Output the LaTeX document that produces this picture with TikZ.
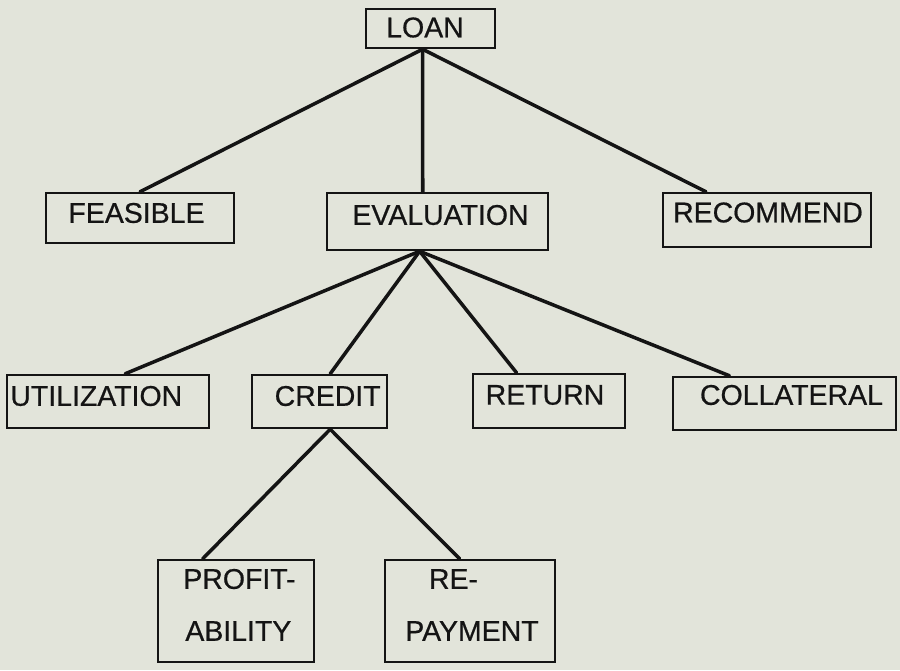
\documentclass[tikz,border=0pt]{standalone}
\usepackage{fontspec}
\setmainfont{Liberation Sans}
\newfontfamily\diagfont{Liberation Sans}[FakeBold=0.6]
\usetikzlibrary{calc}
\definecolor{bg}{RGB}{226,228,218}
\definecolor{ink}{RGB}{20,20,20}
\tikzset{
  box/.style={draw=ink, line width=1.4pt, rectangle, inner sep=0pt},
  lbl/.style={inner sep=0pt, text=ink, font=\diagfont\fontsize{16.2}{18}\selectfont},
  conn/.style={draw=ink, line width=2pt, line cap=round},
}
\begin{document}
\begin{tikzpicture}[x=0.02cm,y=-0.02cm]
\fill[bg] (0,0) rectangle (900,670);
\useasboundingbox (0,0) rectangle (900,670);
% boxes
\node[box, minimum width=129*0.02cm, minimum height=39*0.02cm] (loan) at (430.5,28.5) {};
\node[box, minimum width=188*0.02cm, minimum height=50*0.02cm] (feas) at (140,218) {};
\node[box, minimum width=221*0.02cm, minimum height=57*0.02cm] (eval) at (437.5,221.5) {};
\node[box, minimum width=208*0.02cm, minimum height=54*0.02cm] (rec) at (767,220) {};
\node[box, minimum width=202*0.02cm, minimum height=53*0.02cm] (util) at (108,401.5) {};
\node[box, minimum width=135*0.02cm, minimum height=53*0.02cm] (cred) at (319.5,401.5) {};
\node[box, minimum width=152*0.02cm, minimum height=54*0.02cm] (ret) at (549,401) {};
\node[box, minimum width=223*0.02cm, minimum height=53*0.02cm] (coll) at (784.5,403.5) {};
\node[box, minimum width=156*0.02cm, minimum height=102*0.02cm] (prof) at (236,611) {};
\node[box, minimum width=170*0.02cm, minimum height=102*0.02cm] (repay) at (470,611) {};
% labels
\node[lbl] (loanT) at (425,27.5) {LOAN};
\node[lbl] (feasT) at (136.5,213) {FEASIBLE};
\node[lbl] (evalT) at (440.5,215) {EVALUATION};
\node[lbl] (recT) at (768,212.5) {RECOMMEND};
\node[lbl, anchor=west] (utilT) at (10,396) {UTILIZATION};
\node[lbl, anchor=east] (credT) at (381,396) {CREDIT};
\node[lbl] (retT) at (545,395) {RETURN};
\node[lbl] (collT) at (791.5,395) {COLLATERAL};
\node[lbl, anchor=west] (profA) at (183,579) {PROFIT-};
\node[lbl, anchor=west] (profB) at (185,631) {ABILITY};
\node[lbl] (repA) at (453.5,579) {RE-};
\node[lbl, anchor=east] (repB) at (539,631) {PAYMENT};
% connectors
\draw[conn] ($(loan.south west)!0.44!(loan.south east)$) -- (feas.north);
\draw[conn] ($(loan.south west)!0.44!(loan.south east)$) -- ($(eval.north west)!0.434!(eval.north east)$);
\draw[conn] ($(loan.south west)!0.44!(loan.south east)$) -- ($(rec.north west)!0.21!(rec.north east)$);
\draw[conn] ($(eval.south west)!0.42!(eval.south east)$) -- ($(util.north west)!0.584!(util.north east)$);
\draw[conn] ($(eval.south west)!0.42!(eval.south east)$) -- ($(cred.north west)!0.578!(cred.north east)$);
\draw[conn] ($(eval.south west)!0.42!(eval.south east)$) -- ($(ret.north west)!0.29!(ret.north east)$);
\draw[conn] ($(eval.south west)!0.42!(eval.south east)$) -- ($(coll.north west)!0.256!(coll.north east)$);
\draw[conn] ($(cred.south west)!0.578!(cred.south east)$) -- ($(prof.north west)!0.29!(prof.north east)$);
\draw[conn] ($(cred.south west)!0.578!(cred.south east)$) -- ($(repay.north west)!0.44!(repay.north east)$);
\end{tikzpicture}
\end{document}
